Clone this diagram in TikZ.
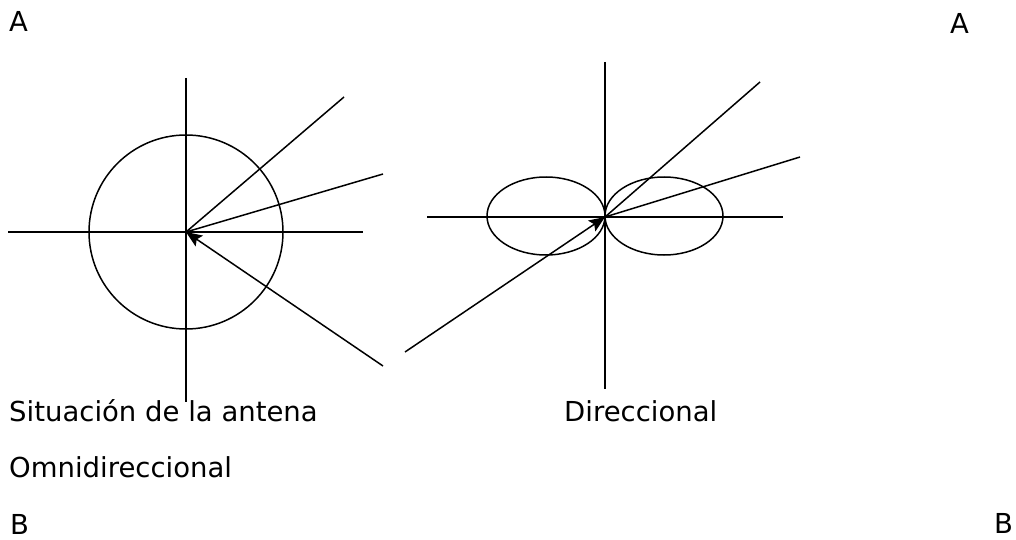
\documentclass[tikz,border=0pt]{standalone}
\usepackage{fontspec}
\setmainfont{DejaVu Sans}
\usetikzlibrary{arrows.meta}
\begin{document}
\begin{tikzpicture}[x=1pt,y=-1pt,
  ln/.style={line width=1.5pt, line cap=butt},
  arr/.style={ln, -{Stealth[length=16pt,width=13pt,inset=3pt]}},
  lbl/.style={inner sep=0pt, anchor=base west, font=\fontsize{27.5}{33}\selectfont}]
\useasboundingbox (0,0) rectangle (1016,540);
% left diagram
\coordinate (oc) at (186,232);
\coordinate (oh1) at (8,232);
\coordinate (oh2) at (363,232);
\coordinate (ov1) at (186,78);
\coordinate (ov2) at (186,402);
\coordinate (oa) at (344,97);
\coordinate (ob) at (383,174);
\coordinate (od) at (383,366);
\draw[ln] (oc) circle[radius=97];
\draw[ln] (oh1) -- (oh2);
\draw[ln] (ov1) -- (ov2);
\draw[ln] (oc) -- (oa);
\draw[ln] (oc) -- (ob);
\draw[arr] (od) -- (oc);
% right diagram
\coordinate (dc) at (605,217);
\coordinate (dl) at (546,216);
\coordinate (dr) at (664,216);
\coordinate (dh1) at (427,217);
\coordinate (dh2) at (783,217);
\coordinate (dv1) at (605,62);
\coordinate (dv2) at (605,389);
\coordinate (da) at (760,82);
\coordinate (db) at (800,157);
\coordinate (dd) at (405,352);
\draw[ln] (dl) ellipse[x radius=59, y radius=39];
\draw[ln] (dr) ellipse[x radius=59, y radius=39];
\draw[ln] (dh1) -- (dh2);
\draw[ln] (dv1) -- (dv2);
\draw[ln] (dc) -- (da);
\draw[ln] (dc) -- (db);
\draw[arr] (dd) -- (dc);
% labels
\node[lbl] (A1) at (9,32) {A};
\node[lbl] (A2) at (950,34) {A};
\node[lbl] (t1) at (9,421) {Situación de la antena};
\node[lbl] (t2) at (564,421) {Direccional};
\node[lbl] (t3) at (9,477) {Omnidireccional};
\node[lbl] (B1) at (10,534) {B};
\node[lbl] (B2) at (994,533) {B};
\end{tikzpicture}
\end{document}
